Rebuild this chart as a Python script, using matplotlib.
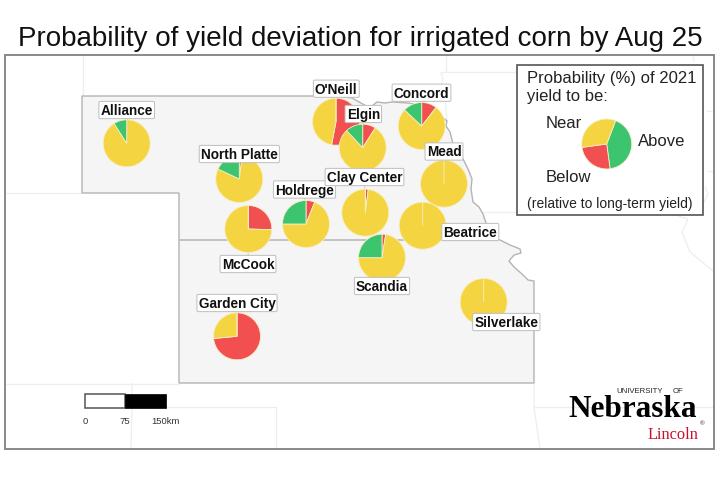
import matplotlib
matplotlib.use("Agg")
import matplotlib.pyplot as plt
from matplotlib.patches import Polygon, Rectangle

plt.rcParams["font.family"] = ["Liberation Sans", "DejaVu Sans"]

WIDTH, HEIGHT = 720, 481
YELLOW = "#F5D442"
RED = "#F25050"
GREEN = "#3DC46F"
FAINT = "#eeeeee"
BORDER = "#b4b4b4"

# probabilities in percent
sites = ["Alliance", "North Platte", "McCook", "Holdrege", "O'Neill", "Elgin", "Concord",
         "Mead", "Clay Center", "Beatrice", "Scandia", "Silverlake", "Garden City"]
below = [0, 2, 25.5, 6, 53, 9, 10.5, 0, 2, 0, 2.5, 0, 73.5]
near = [91, 80, 74.5, 69, 47, 79, 76.5, 100, 98, 100, 72.5, 100, 26.5]
above = [9, 18, 0, 25, 0, 12, 13, 0, 0, 0, 25, 0, 0]

legend_above = 42
legend_below = 25
legend_near = 33

# image pixel positions
pie_x = [126.7, 239.3, 248.3, 306, 336, 362.7, 421.7, 444, 365.3, 422.7, 382, 483.7, 237]
pie_y = [144.3, 180, 230, 225, 122.7, 148.7, 127, 184.7, 213.7, 226.7, 258.7, 303, 337.3]
label_x = [126.7, 239.3, 248, 304.5, 336.3, 363.3, 421.5, 444, 364.5, 470.3, 382, 506.3, 237]
label_y = [111, 155, 265, 190.5, 89.7, 115, 93.7, 152.5, 178, 233, 287, 323, 304]

region_outline = [
    (82, 97), (335, 97), (352, 99), (368, 108), (372, 107), (377, 103), (385, 104), (392, 103),
    (408, 104), (420, 106), (435, 112), (447, 122), (446, 127), (450, 133), (453, 145),
    (458, 150), (463, 160), (468, 170), (472, 180), (471, 190), (473, 203), (479, 208),
    (483, 215), (487, 227), (491, 236), (498, 240), (510, 246), (520, 250), (521, 254),
    (514, 256), (509, 262), (514, 268), (522, 275), (528, 281), (534, 282), (534, 384),
    (179, 384), (179, 194), (82, 194),
]
state_line = [(179, 240.5), (498, 240.5)]

faint_lines = [
    [(82.5, 56), (82.5, 97)],
    [(5, 194), (82, 194)],
    [(5, 384.5), (179, 384.5)],
    [(132, 384), (132, 408), (131, 449)],
    [(132, 408), (276, 408), (276, 449)],
    [(534, 384), (534, 408), (540, 449)],
    [(534, 408), (714, 408)],
    [(446, 56), (446, 73), (517, 73)],
    [(446, 73), (441, 74), (443, 80), (440, 90), (445, 100), (447, 122)],
    [(483, 213), (517, 213)],
    [(678, 217), (688, 220), (682, 233), (690, 253), (713, 272)],
    [(693, 57), (694, 63)],
    [(707, 112), (713, 113)],
    [(707, 172), (713, 172)],
    [(705, 187), (708, 195), (703, 205)],
]


def flip(y):
    return HEIGHT - y


def draw_line(ax, points, color, linewidth, zorder):
    ax.plot([p[0] for p in points], [flip(p[1]) for p in points], color=color,
            linewidth=linewidth, zorder=zorder, solid_capstyle="butt", solid_joinstyle="round")


def draw_pie(ax, values, colors, x, y, radius, startangle, zorder):
    wedges, _ = ax.pie(values, colors=colors, center=(x, flip(y)), radius=radius,
                       startangle=startangle, counterclock=False, frame=True,
                       wedgeprops={"edgecolor": "#f6efc4", "linewidth": 0.6})
    for wedge in wedges:
        wedge.set_zorder(zorder)


fig = plt.figure(figsize=(WIDTH / 100, HEIGHT / 100), dpi=100)
ax = fig.add_axes([0, 0, 1, 1])

ax.text(360, flip(46.5), "Probability of yield deviation for irrigated corn by Aug 25",
        ha="center", va="baseline", fontsize=20, color="#111111")

# background map
for line in faint_lines:
    draw_line(ax, line, FAINT, 0.9, 1)
ax.add_patch(Polygon([(x, flip(y)) for x, y in region_outline], closed=True,
                     facecolor="#f5f5f5", edgecolor=BORDER, linewidth=1.0, zorder=2))
draw_line(ax, state_line, BORDER, 1.1, 2.5)

# map frame
ax.add_patch(Rectangle((5, flip(449.5)), 709, 393.5, fill=False, edgecolor="#808080",
                       linewidth=1.3, zorder=3))

# leader lines, pies and station labels
for i, name in enumerate(sites):
    draw_line(ax, [(pie_x[i], pie_y[i]), (label_x[i], label_y[i])], "#c8c8c8", 0.6, 3.5)
    draw_pie(ax, [below[i], near[i], above[i]], [RED, YELLOW, GREEN], pie_x[i], pie_y[i],
             23.5, 90, 4 + i * 0.01)
for i, name in enumerate(sites):
    ax.text(label_x[i], flip(label_y[i]), name, ha="center", va="center", fontsize=9.8,
            fontweight="bold", color="#111111", zorder=6,
            bbox={"boxstyle": "round,pad=0.12,rounding_size=0.1", "facecolor": "white",
                  "edgecolor": "#bdbdbd", "linewidth": 0.7})

# legend box
ax.add_patch(Rectangle((517, flip(215.5)), 186, 149.5, facecolor="white", edgecolor="#555555",
                       linewidth=1.2, zorder=7))
ax.text(527, flip(83), "Probability (%) of 2021", fontsize=12, color="#222222", zorder=8)
ax.text(527, flip(101.5), "yield to be:", fontsize=12, color="#222222", zorder=8)
ax.text(545.5, flip(128), "Near", fontsize=12, color="#222222", zorder=8)
ax.text(638, flip(145.5), "Above", fontsize=12, color="#222222", zorder=8)
ax.text(545.5, flip(182), "Below", fontsize=12, color="#222222", zorder=8)
ax.text(527, flip(208), "(relative to long-term yield)", fontsize=10, color="#222222", zorder=8)
draw_pie(ax, [legend_above, legend_below, legend_near], [GREEN, RED, YELLOW], 606.7, 145, 25,
         69, 8)

# scale bar
ax.add_patch(Rectangle((85, flip(408.5)), 40, 13.5, facecolor="white", edgecolor="#555555",
                       linewidth=1.1, zorder=5))
ax.add_patch(Rectangle((125, flip(408.5)), 40.5, 13.5, facecolor="black", edgecolor="black",
                       linewidth=0.5, zorder=5))
for tick_x, tick in zip([85, 125, 165], ["0", "75", "150km"]):
    ax.text(tick_x, flip(421.5), tick, ha="center", va="center", fontsize=6.8, color="#333333",
            zorder=5)

# wordmark
ax.text(568.5, flip(417), "Nebraska", family=["Liberation Serif"], fontweight="bold",
        fontsize=22.5, color="black", zorder=5)
ax.text(616.5, flip(393), "UNIVERSITY", fontsize=5.6, color="#222222", zorder=5)
ax.text(673, flip(393), "OF", fontsize=5.6, color="#222222", zorder=5)
ax.text(647, flip(439), "Lincoln", family=["Liberation Serif"], fontsize=11.8, color="#c8102e",
        zorder=5)
ax.text(700, flip(425), "®", fontsize=4.5, color="#222222", zorder=5)

ax.set_xlim(0, WIDTH)
ax.set_ylim(0, HEIGHT)
ax.set_aspect("equal")
ax.axis("off")

fig.savefig("out.png", dpi=100)
